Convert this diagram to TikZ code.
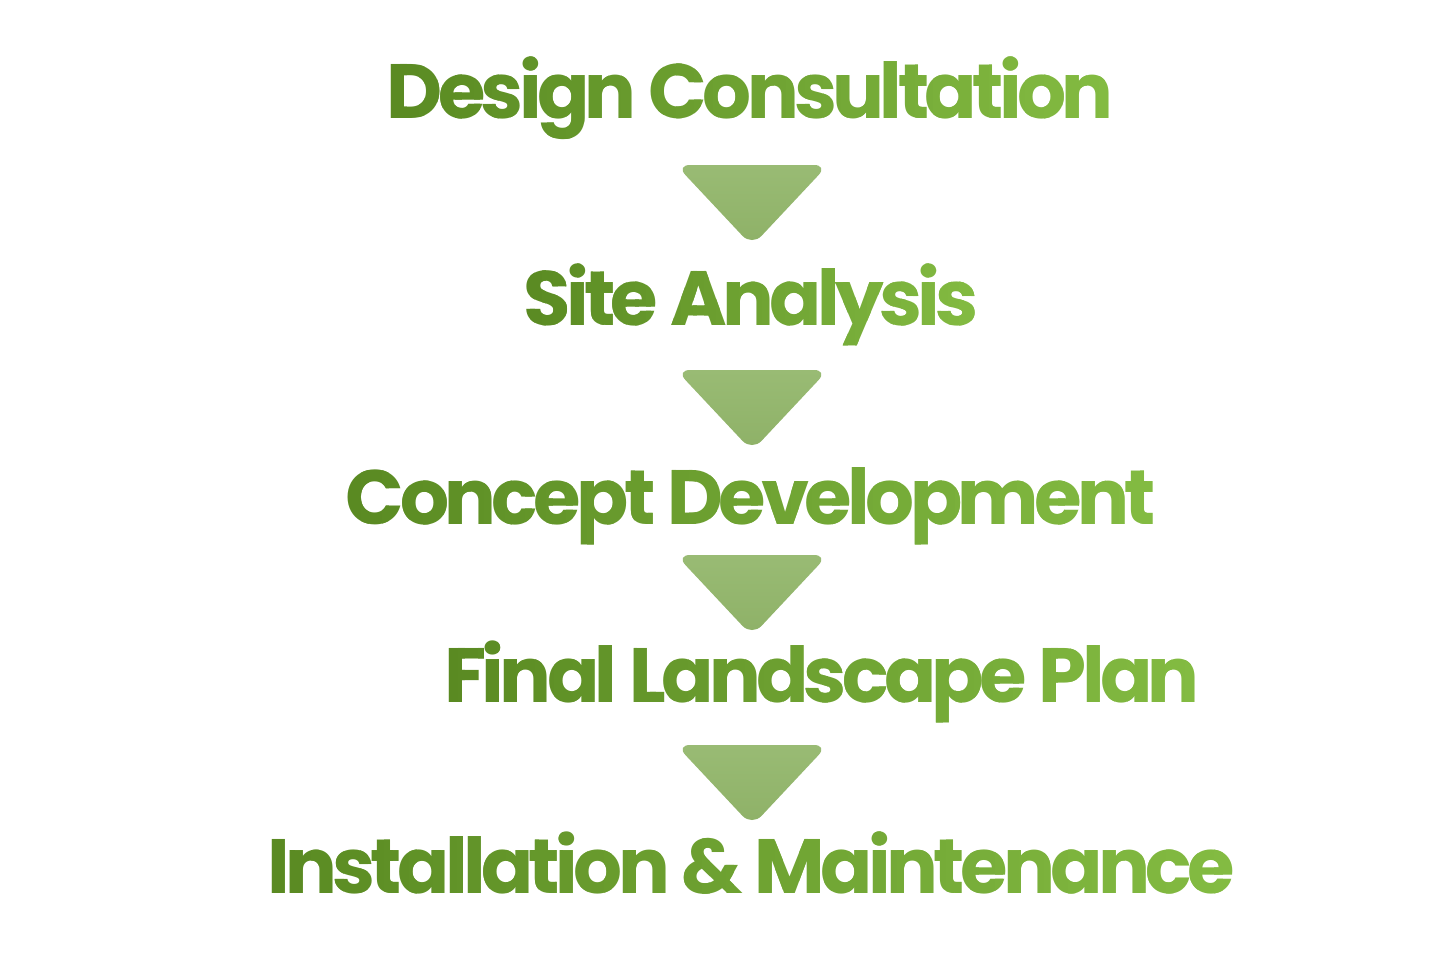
\documentclass[tikz,border=0pt]{standalone}
\usepackage{fontspec}
\newfontfamily\stepfamily{Poppins Bold}[LetterSpace=-6]
\usepackage{tikz}
\usetikzlibrary{calc}

\definecolor{leafdark}{HTML}{5A8A22}
\definecolor{leaflight}{HTML}{83BB42}
\definecolor{arrowtop}{HTML}{99BB74}
\definecolor{arrowbot}{HTML}{8EB167}

\newcommand\stepfont{\stepfamily\fontsize{38.5}{43}\selectfont}

\tikzset{
  steplabel/.style={inner sep=2pt, font=\stepfont, text opacity=0, anchor=base},
  steptext/.style={inner sep=2pt, font=\stepfont, anchor=base},
  steparrow/.style={top color=arrowtop, bottom color=arrowbot, draw=none,
    rounded corners=7}
}

% paint a label in thin clipped strips, dark on the left, light on the right
\newcommand\gradtext[2]{%
  \foreach \i in {0,...,39}{
    \pgfmathsetmacro\p{100*\i/39}
    \begin{scope}
      \clip ($(#1.south west)!{\i/40}!(#1.south east)$)
        rectangle ($(#1.north west)!{(\i+1.3)/40}!(#1.north east)$);
      \node[steptext, text=leaflight!\p!leafdark] at (#1.base) {#2};
    \end{scope}}}

\begin{document}
\begin{tikzpicture}[x=0.5pt, y=-0.5pt]

  \useasboundingbox (0,0) rectangle (1455,970);

  % Step labels
  \node[steplabel] (dc)  at (750,118) {Design Consultation};
  \node[steplabel] (sa)  at (751,325) {Site Analysis};
  \node[steplabel] (cd)  at (751,524) {Concept Development};
  \node[steplabel] (flp) at (822,702) {Final Landscape Plan};
  \node[steplabel] (im)  at (751,893) {Installation \& Maintenance};

  \gradtext{dc}{Design Consultation}
  \gradtext{sa}{Site Analysis}
  \gradtext{cd}{Concept Development}
  \gradtext{flp}{Final Landscape Plan}
  \gradtext{im}{Installation \& Maintenance}

  % Arrows between the steps
  \coordinate (a1) at (752,165);
  \coordinate (a2) at (752,370);
  \coordinate (a3) at (752,555);
  \coordinate (a4) at (752,745);
  \foreach \a in {a1,a2,a3,a4}
    \shade[steparrow] (\a) ++(-76,0) -- ++(152,0) -- ++(-76,81) -- cycle;

\end{tikzpicture}
\end{document}
